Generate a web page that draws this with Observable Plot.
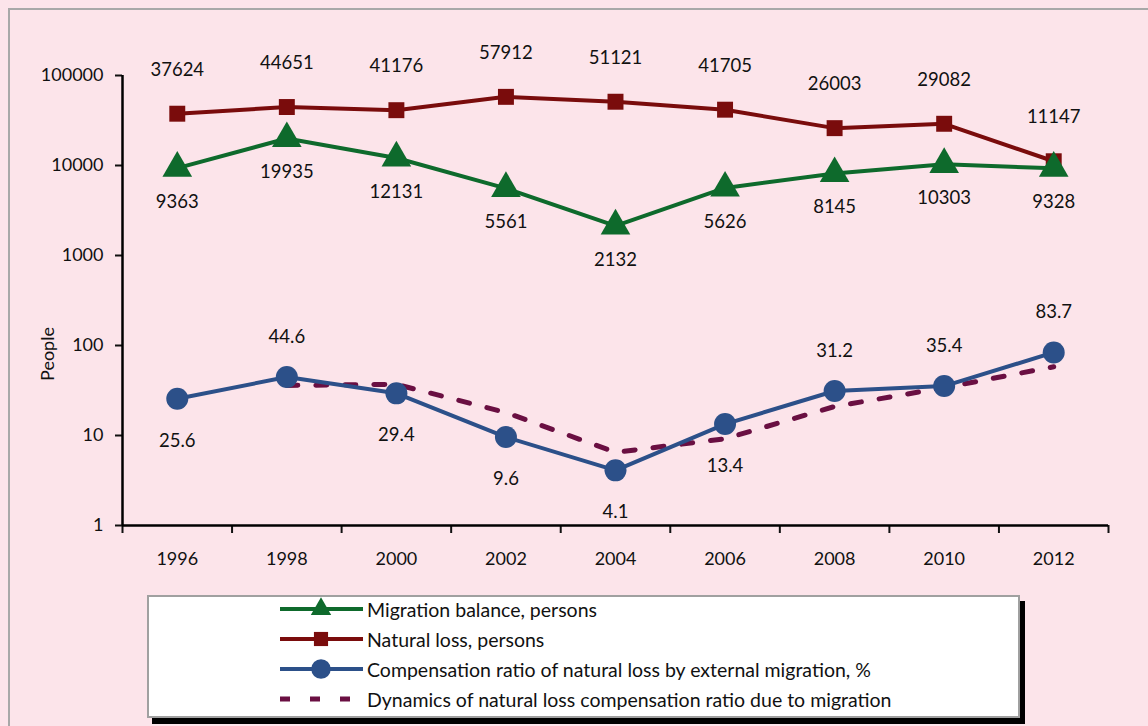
<!DOCTYPE html>
<html>
<head>
<meta charset="utf-8">
<script src="https://cdn.jsdelivr.net/npm/d3@7"></script>
<script src="https://cdn.jsdelivr.net/npm/@observablehq/plot@0.6"></script>
<style>
  html, body { margin: 0; padding: 0; background: #fce4ea; overflow: hidden; }
  body { width: 1148px; height: 726px; position: relative; font-family: Lato, "Open Sans", sans-serif; }
  #frame { position: absolute; left: 8px; top: 8px; width: 1160px; height: 740px; border: 2px solid #a8a8a8; box-sizing: border-box; }
  #chart { position: absolute; left: 0; top: 0; }
  #ylabel { position: absolute; left: 47px; top: 354px; transform: translate(-50%, -50%) rotate(-90deg); font-size: 18px; color: #111; white-space: nowrap; }
  #legend { position: absolute; left: 147px; top: 595px; width: 873px; height: 123px; background: #fff;
            border: 2px solid #a0a0a0; box-sizing: border-box; box-shadow: 5px 6px 0 #000; }
  .row { position: absolute; left: 130px; height: 26px; display: flex; align-items: center; font-size: 19.5px; color: #111; }
  .row svg { margin-right: 3px; }
</style>
</head>
<body>
<div id="frame"></div>
<div id="chart"></div>
<div id="ylabel">People</div>
<div id="legend"></div>
<script>
const years = [1996, 1998, 2000, 2002, 2004, 2006, 2008, 2010, 2012];
const migrationBalance = [9363, 19935, 12131, 5561, 2132, 5626, 8145, 10303, 9328];
const naturalLoss = [37624, 44651, 41176, 57912, 51121, 41705, 26003, 29082, 11147];
const compensationRatio = [25.6, 44.6, 29.4, 9.6, 4.1, 13.4, 31.2, 35.4, 83.7];
const ratioLabelSide = ["below", "above", "below", "below", "below", "below", "above", "above", "above"];
const dynamicsYears = [1998, 2000, 2002, 2004, 2006, 2008, 2010, 2012];
const dynamicsValues = [36, 37, 18, 6.5, 9.2, 21, 34, 58];
const yTicks = [1, 10, 100, 1000, 10000, 100000];
const seriesNames = [
  "Migration balance, persons",
  "Natural loss, persons",
  "Compensation ratio of natural loss by external migration, %",
  "Dynamics of natural loss compensation ratio due to migration"
];
const colors = { green: "#0e6a2c", red: "#7a0c0c", blue: "#2c5089", dash: "#6a0f42" };

const mig = years.map((y, i) => ({ year: y, value: migrationBalance[i] }));
const nat = years.map((y, i) => ({ year: y, value: naturalLoss[i] }));
const ratio = years.map((y, i) => ({ year: y, value: compensationRatio[i], side: ratioLabelSide[i] }));
const dyn = dynamicsYears.map((y, i) => ({ year: y, value: dynamicsValues[i] }));
const boundaries = d3.range(years[0] - 1, years[years.length - 1] + 2, 2);

const fmtInt = d => String(d);
const lblFont = { fontSize: 18.5, fill: "#111", fontFamily: "Lato, sans-serif" };

const chart = Plot.plot({
  width: 1148,
  height: 580,
  marginLeft: 122,
  marginRight: 40,
  marginTop: 75,
  marginBottom: 55,
  style: { background: "transparent", fontFamily: "Lato, sans-serif", fontSize: "18px", color: "#111" },
  x: { type: "linear", domain: [boundaries[0], boundaries[boundaries.length - 1]] },
  y: { type: "log", domain: [1, 100000] },
  marks: [
    Plot.axisY({ ticks: yTicks, tickFormat: fmtInt, tickSize: 7, tickPadding: 12, label: null, fontSize: 18, strokeWidth: 2 }),
    Plot.axisX({ ticks: boundaries, tickFormat: () => "", tickSize: 8, label: null, strokeWidth: 2 }),
    Plot.axisX({ ticks: years, tickFormat: fmtInt, tickSize: 0, tickPadding: 27, label: null, fontSize: 18 }),
    Plot.ruleX([boundaries[0]], { stroke: "#000", strokeWidth: 2.5 }),
    Plot.ruleY([1], { stroke: "#000", strokeWidth: 2.5 }),
    Plot.line(dyn, { x: "year", y: "value", stroke: colors.dash, strokeWidth: 5, strokeDasharray: "11,18" }),
    Plot.line(nat, { x: "year", y: "value", stroke: colors.red, strokeWidth: 4 }),
    Plot.line(mig, { x: "year", y: "value", stroke: colors.green, strokeWidth: 4 }),
    Plot.line(ratio, { x: "year", y: "value", stroke: colors.blue, strokeWidth: 4 }),
    Plot.dot(nat, { x: "year", y: "value", symbol: "square", r: 9, fill: colors.red }),
    Plot.dot(mig, { x: "year", y: "value", symbol: "triangle", r: 11, fill: colors.green }),
    Plot.dot(ratio, { x: "year", y: "value", symbol: "circle", r: 11, fill: colors.blue }),
    Plot.text(nat, { x: "year", y: "value", text: d => fmtInt(d.value), dy: -44, ...lblFont }),
    Plot.text(mig, { x: "year", y: "value", text: d => fmtInt(d.value), dy: 34, ...lblFont }),
    Plot.text(ratio.filter(d => d.side === "above"), { x: "year", y: "value", text: d => d.value.toFixed(1), dy: -40, ...lblFont }),
    Plot.text(ratio.filter(d => d.side === "below"), { x: "year", y: "value", text: d => d.value.toFixed(1), dy: 42, ...lblFont })
  ]
});
document.getElementById("chart").appendChild(chart);

// Legend
const legend = document.getElementById("legend");
const swatches = [
  { color: colors.green, symbol: d3.symbolTriangle, size: 180, dash: null },
  { color: colors.red, symbol: d3.symbolSquare, size: 200, dash: null },
  { color: colors.blue, symbol: d3.symbolCircle, size: 300, dash: null },
  { color: colors.dash, symbol: null, size: 0, dash: "10,20" }
];
seriesNames.forEach((name, i) => {
  const row = document.createElement("div");
  row.className = "row";
  row.style.top = (-1 + i * 30) + "px";
  const s = swatches[i];
  const svg = d3.create("svg").attr("width", 85).attr("height", 26);
  svg.append("line").attr("x1", 1).attr("x2", 84).attr("y1", 13).attr("y2", 13)
    .attr("stroke", s.color).attr("stroke-width", s.dash ? 5 : 4)
    .attr("stroke-dasharray", s.dash);
  if (s.symbol) {
    svg.append("path").attr("d", d3.symbol(s.symbol, s.size)()).attr("transform", "translate(42,13)").attr("fill", s.color);
  }
  row.appendChild(svg.node());
  const t = document.createElement("span");
  t.textContent = name;
  row.appendChild(t);
  legend.appendChild(row);
});
</script>
</body>
</html>
